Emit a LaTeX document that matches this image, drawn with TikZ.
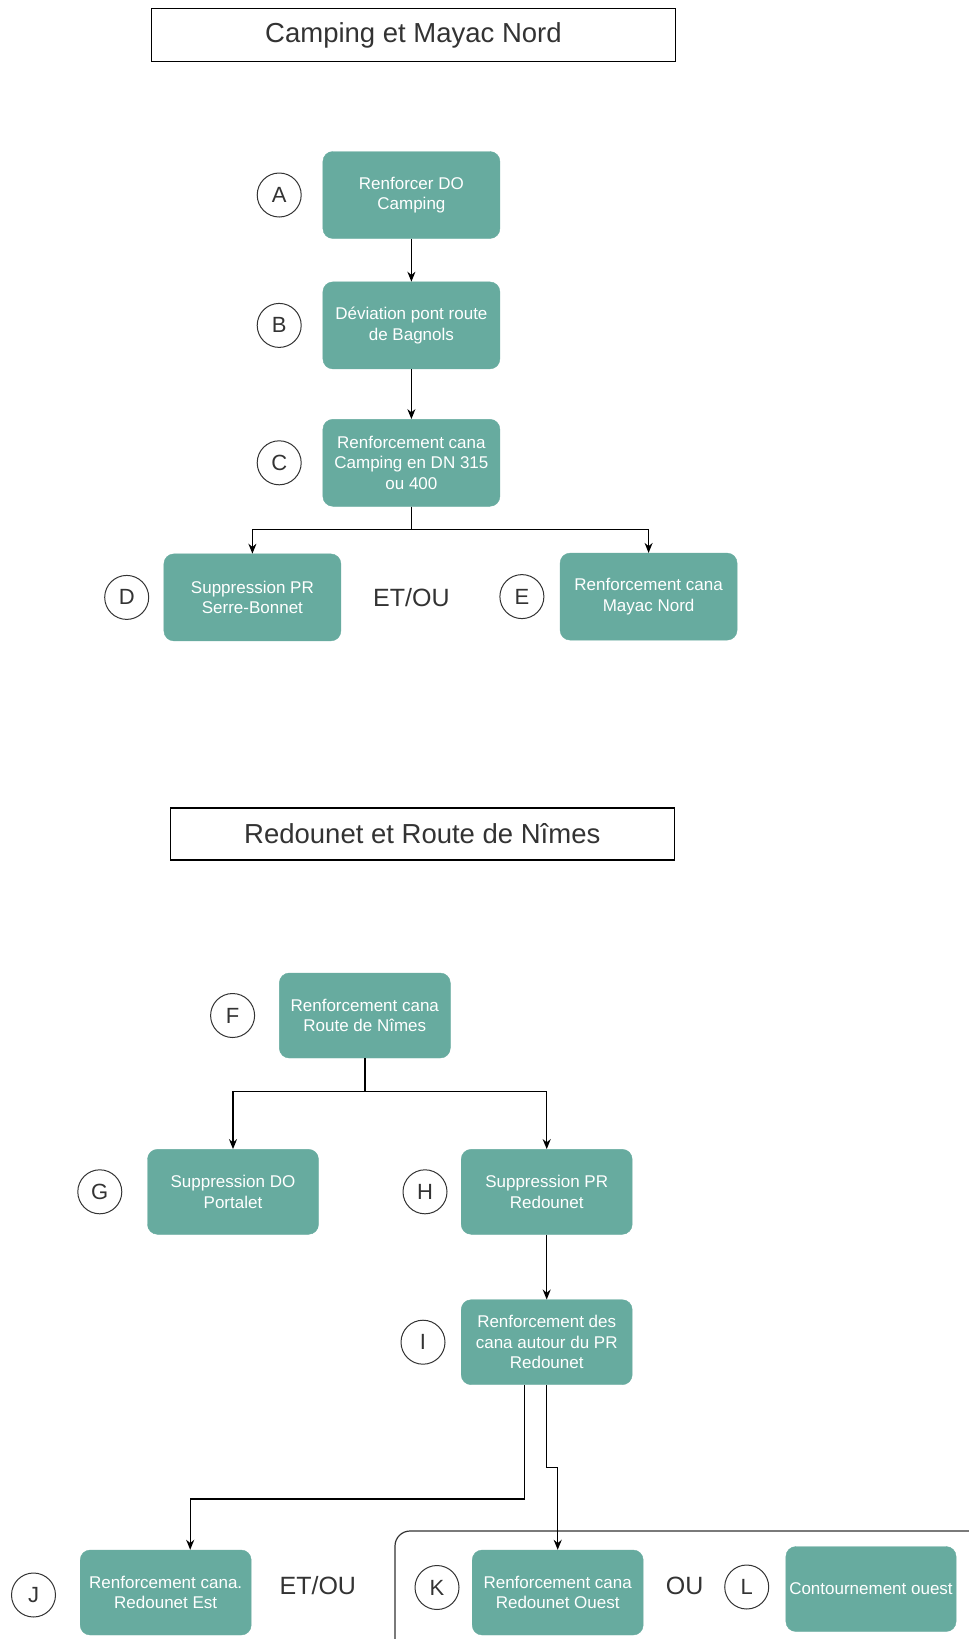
\documentclass[tikz,border=0pt]{standalone}
\usepackage{fontspec}
\setmainfont{Liberation Sans}
\usetikzlibrary{arrows.meta, positioning}
\definecolor{sage}{HTML}{67AB9F}
\definecolor{ink}{HTML}{333333}

\begin{document}
\begin{tikzpicture}[
  x=1pt, y=-1pt,
  act/.style={draw=sage, fill=sage, rounded corners=10pt, minimum width=171pt,
              minimum height=85pt, align=center, text=white,
              font=\fontsize{17}{20.4}\selectfont},
  tag/.style={draw=ink, circle, minimum size=44pt, inner sep=0pt,
              line width=1pt, text=ink, font=\fontsize{22}{22}\selectfont},
  ttl/.style={draw=black, line width=1.2pt, minimum height=53pt, text=ink,
              font=\fontsize{27.5}{27.5}\selectfont},
  op/.style={text=ink, font=\fontsize{25}{25}\selectfont},
  arr/.style={-{Stealth[length=10pt,width=8pt]}, line width=1.4pt},
]
  \useasboundingbox (0,0) rectangle (969,1639);

  % Camping et Mayac Nord
  \node[ttl, minimum width=524pt] (t1) at (413.5,35) {Camping et Mayac Nord};
  \node[act, minimum width=177pt, minimum height=87pt] (A) at (411.4,195) {Renforcer DO\\Camping};
  \node[act, minimum width=177pt, minimum height=87pt, below=43pt of A] (B) {Déviation pont route\\de Bagnols};
  \node[act, minimum width=177pt, minimum height=87pt, below=50pt of B] (C) {Renforcement cana\\Camping en DN 315\\ou 400};
  \node[act, minimum width=177pt, minimum height=87pt] (D) at (252.4,597.4) {Suppression PR\\Serre-Bonnet};
  \node[act, minimum width=177pt, minimum height=87pt] (E) at (648.6,596.6) {Renforcement cana\\Mayac Nord};
  \node[op] (o1) at (C |- D) {ET/OU};

  \node[tag, left=21pt of A] (cA) {A};
  \node[tag, left=21pt of B] (cB) {B};
  \node[tag, left=21pt of C] (cC) {C};
  \node[tag, left=14.5pt of D] (cD) {D};
  \node[tag, left=15.5pt of E] (cE) {E};

  \draw[arr] (A) -- (B);
  \draw[arr] (B) -- (C);
  \draw[arr] (C.south) -- ++(0,23) -| (D.north);
  \draw[arr] (C.south) -- ++(0,23) -| (E.north);

  % Redounet et Route de Nimes
  \node[ttl, minimum width=504pt, minimum height=52pt] (t2) at (422.3,834) {Redounet et Route de Nîmes};
  \node[act] (F) at (364.8,1015.5) {Renforcement cana\\Route de Nîmes};
  \node[act] (G) at (233,1191.8) {Suppression DO\\Portalet};
  \node[act] (H) at (546.7,1191.8) {Suppression PR\\Redounet};
  \node[act, below=65pt of H] (I) {Renforcement des\\cana autour du PR\\Redounet};
  \node[act] (J) at (165.7,1592.5) {Renforcement cana.\\Redounet Est};
  \node[act] (K) at (557.7,1592.5) {Renforcement cana\\Redounet Ouest};
  \node[act, minimum width=170pt] (L) at (871,1589) {Contournement ouest};
  \node[op] (o2) at (317.8,1586) {ET/OU};
  \node[op] (o3) at (684.7,1586) {OU};

  \node[tag, left=24pt of F] (cF) {F};
  \node[tag, left=25pt of G] (cG) {G};
  \node[tag, left=13.5pt of H] (cH) {H};
  \node[tag, left=15.5pt of I] (cI) {I};
  \node[tag, left=24pt of J, yshift=-2.5pt] (cJ) {J};
  \node[tag, left=12.5pt of K, yshift=5pt] (cK) {K};
  \node[tag, left=16.5pt of L, yshift=2pt] (cL) {L};

  \begin{scope}
    \clip (0,0) rectangle (969,1639);
    \draw[draw=ink, line width=1.2pt, rounded corners=15pt] (395,1531) rectangle (990,1665);
  \end{scope}

  \draw[arr] (F.south) -- ++(0,33) -| (G.north);
  \draw[arr] (F.south) -- ++(0,33) -| (H.north);
  \draw[arr] (H) -- (I);
  \draw[arr] ([xshift=-22pt]I.south) -- ++(0,114) -| ([xshift=24.5pt]J.north);
  \draw[arr] (I.south) -- ++(0,82.5) -| (K.north);
\end{tikzpicture}
\end{document}
